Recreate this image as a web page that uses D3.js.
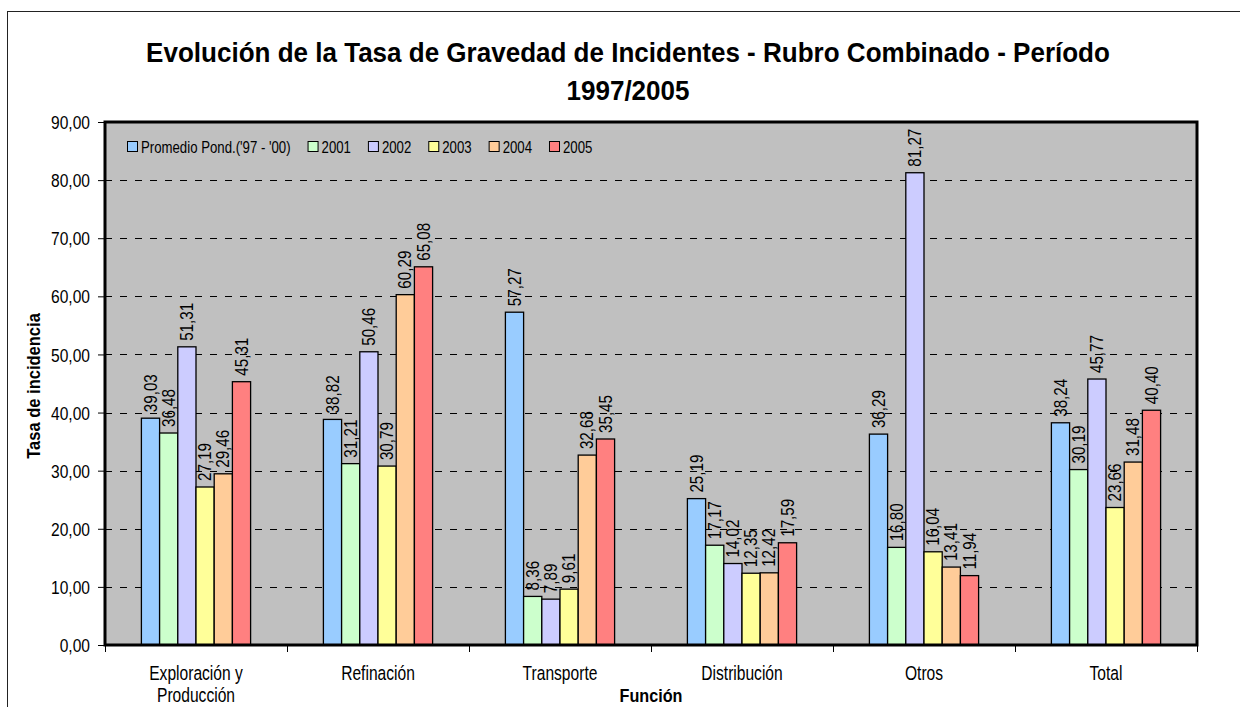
<!DOCTYPE html>
<html>
<head>
<meta charset="utf-8">
<script src="https://cdn.jsdelivr.net/npm/d3@7"></script>
<style>
  body { margin: 0; background: #fff; }
  text { font-family: "Liberation Sans", Arial, sans-serif; fill: #000; }
</style>
</head>
<body>
<script>
const width = 1240;
const height = 707;

const categories = ["Exploración y|Producción", "Refinación", "Transporte", "Distribución", "Otros", "Total"];
const seriesNames = ["Promedio Pond.('97 - '00)", "2001", "2002", "2003", "2004", "2005"];
const seriesColors = ["#99ccff", "#ccffcc", "#ccccff", "#ffff99", "#ffcc99", "#ff8080"];

// one array per series, in category order
const promedio = [39.03, 38.82, 57.27, 25.19, 36.29, 38.24];
const y2001 = [36.48, 31.21, 8.36, 17.17, 16.80, 30.19];
const y2002 = [51.31, 50.46, 7.89, 14.02, 81.27, 45.77];
const y2003 = [27.19, 30.79, 9.61, 12.35, 16.04, 23.66];
const y2004 = [29.46, 60.29, 32.68, 12.42, 13.41, 31.48];
const y2005 = [45.31, 65.08, 35.45, 17.59, 11.94, 40.40];
const seriesValues = [promedio, y2001, y2002, y2003, y2004, y2005];

const yTicks = [0, 10, 20, 30, 40, 50, 60, 70, 80, 90];

const plot = { left: 105, top: 122, right: 1197, bottom: 645 };
const fmt = (v) => v.toFixed(2).replace(".", ",");
const NARROW = 0.8; // the original text is horizontally condensed

const svg = d3.select("body").append("svg")
  .attr("width", width)
  .attr("height", height);

// outer chart frame
svg.append("rect")
  .attr("x", 7.5).attr("y", 11.5)
  .attr("width", 1300).attr("height", 800)
  .attr("fill", "#fff")
  .attr("stroke", "#222").attr("stroke-width", 1);

const x0 = d3.scaleBand()
  .domain(categories)
  .range([plot.left, plot.right])
  .paddingInner(0).paddingOuter(0);

const x1 = d3.scaleBand()
  .domain(seriesNames)
  .range([0, x0.bandwidth()])
  .paddingOuter(2.0).paddingInner(0);

const y = d3.scaleLinear().domain([0, 90]).range([plot.bottom, plot.top]);

// plot background
svg.append("rect")
  .attr("x", plot.left).attr("y", plot.top)
  .attr("width", plot.right - plot.left).attr("height", plot.bottom - plot.top)
  .attr("fill", "#c0c0c0");

// gridlines
svg.append("g")
  .selectAll("line")
  .data(yTicks.filter(d => d > 0 && d < 90))
  .join("line")
  .attr("x1", plot.left).attr("x2", plot.right)
  .attr("y1", d => Math.round(y(d)) + 0.5).attr("y2", d => Math.round(y(d)) + 0.5)
  .attr("stroke", "#000").attr("stroke-width", 1)
  .attr("stroke-dasharray", "7,8");

// bars
const groups = svg.append("g")
  .selectAll("g")
  .data(categories)
  .join("g")
  .attr("transform", d => `translate(${x0(d)},0)`);

groups.each(function (cat, ci) {
  const g = d3.select(this);
  const rows = seriesNames.map((s, si) => ({ s, si, v: seriesValues[si][ci] }));
  g.selectAll("rect")
    .data(rows)
    .join("rect")
    .attr("x", d => x1(d.s))
    .attr("y", d => y(d.v))
    .attr("width", x1.bandwidth())
    .attr("height", d => y(0) - y(d.v))
    .attr("fill", d => seriesColors[d.si])
    .attr("stroke", "#000").attr("stroke-width", 1.3);

  g.selectAll("text")
    .data(rows)
    .join("text")
    .attr("transform", d => `translate(${x1(d.s) + x1.bandwidth() / 2 + 6},${y(d.v) - 6}) rotate(-90) scale(${NARROW},1)`)
    .attr("font-size", 19)
    .text(d => fmt(d.v));
});

// plot border
svg.append("rect")
  .attr("x", plot.left).attr("y", plot.top)
  .attr("width", plot.right - plot.left).attr("height", plot.bottom - plot.top)
  .attr("fill", "none")
  .attr("stroke", "#000").attr("stroke-width", 3);

// y axis
const yAxis = svg.append("g")
  .attr("transform", `translate(${plot.left},0)`)
  .call(d3.axisLeft(y).tickValues(yTicks).tickFormat(fmt).tickSize(7));
yAxis.select(".domain").remove();
yAxis.selectAll("line").attr("stroke", "#000");
yAxis.selectAll("text")
  .attr("x", 0).attr("dy", "0.35em")
  .attr("font-size", 19)
  .attr("font-family", null)
  .attr("transform", `translate(-15,0) scale(${NARROW + 0.02},1)`);

// x axis: ticks at category boundaries
const xAxis = svg.append("g");
xAxis.selectAll("line")
  .data(categories.map(c => x0(c)).concat([plot.right]))
  .join("line")
  .attr("x1", d => Math.round(d) + 0.5).attr("x2", d => Math.round(d) + 0.5)
  .attr("y1", plot.bottom).attr("y2", plot.bottom + 7)
  .attr("stroke", "#000");

xAxis.selectAll("text")
  .data(categories)
  .join("text")
  .attr("transform", d => `translate(${x0(d) + x0.bandwidth() / 2},680) scale(${NARROW},1)`)
  .attr("text-anchor", "middle")
  .attr("font-size", 19.5)
  .each(function (d) {
    d3.select(this).selectAll("tspan")
      .data(d.split("|"))
      .join("tspan")
      .attr("x", 0)
      .attr("dy", (p, i) => i === 0 ? 0 : 22)
      .text(p => p);
  });

// titles
const titleLines = ["Evolución de la Tasa de Gravedad de Incidentes - Rubro Combinado - Período", "1997/2005"];
svg.append("g").selectAll("text")
  .data(titleLines)
  .join("text")
  .attr("transform", (d, i) => `translate(628,${62 + i * 38}) scale(0.93,1)`)
  .attr("text-anchor", "middle")
  .attr("font-size", 28)
  .attr("font-weight", "bold")
  .text(d => d);

svg.append("text")
  .attr("transform", `translate(651,702) scale(0.9,1)`)
  .attr("text-anchor", "middle")
  .attr("font-size", 18)
  .attr("font-weight", "bold")
  .text("Función");

svg.append("text")
  .attr("transform", `translate(40,386) rotate(-90) scale(0.87,1)`)
  .attr("text-anchor", "middle")
  .attr("font-size", 19)
  .attr("font-weight", "bold")
  .text("Tasa de incidencia");

// legend
const legend = svg.append("g").attr("transform", "translate(127,147)");
let lx = 0;
seriesNames.forEach((s, i) => {
  const item = legend.append("g").attr("transform", `translate(${lx},0)`);
  item.append("rect")
    .attr("x", 0.5).attr("y", -5.5)
    .attr("width", 10).attr("height", 10)
    .attr("fill", seriesColors[i])
    .attr("stroke", "#000");
  const t = item.append("text")
    .attr("transform", `translate(14,6) scale(${NARROW},1)`)
    .attr("font-size", 16.5)
    .text(s);
  lx += 14 + t.node().getComputedTextLength() * NARROW + 17;
});
</script>
</body>
</html>
